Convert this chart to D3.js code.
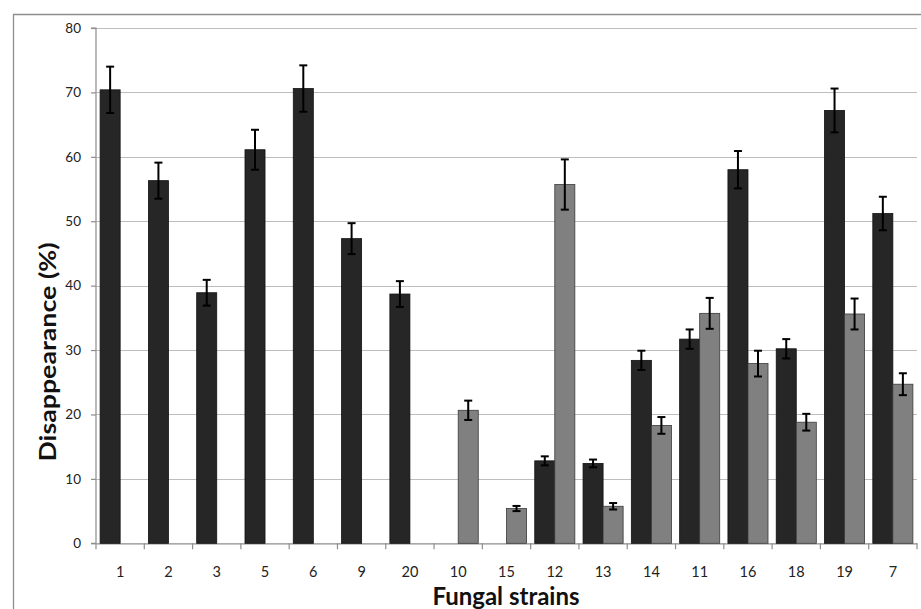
<!DOCTYPE html>
<html><head><meta charset="utf-8">
<script src="https://cdn.jsdelivr.net/npm/d3@7/dist/d3.min.js"></script>
<style>body{margin:0;background:#fff}svg{display:block}</style>
</head><body>
<svg id="c" width="921" height="609"></svg>
<script>
const strains = ["1","2","3","5","6","9","20","10","15","12","13","14","11","16","18","19","7"];
const darkVals = [70.4,56.3,38.9,61.1,70.6,47.3,38.7,null,null,12.8,12.4,28.4,31.7,58.0,30.2,67.2,51.2];
const darkErr  = [3.6,2.8,2.0,3.1,3.6,2.4,2.0,null,null,0.7,0.6,1.5,1.5,2.9,1.5,3.4,2.6];
const grayVals = [null,null,null,null,null,null,null,20.65,5.4,55.7,5.75,18.3,35.7,27.9,18.8,35.6,24.7];
const grayErr  = [null,null,null,null,null,null,null,1.5,0.4,3.9,0.5,1.3,2.4,2.0,1.3,2.4,1.7];
const yTicks = [0,10,20,30,40,50,60,70,80];

const svg = d3.select("#c");
const F = "Lato, 'Open Sans', sans-serif";
// outer chart border
svg.append("path").attr("d","M13.5,609 V14.5 H921").attr("fill","none").attr("stroke","#8e8e8e").attr("stroke-width",1.3);

const x0 = 96, x1 = 917, yTop = 28, yBot = 543.3;
const x = d3.scaleBand().domain(strains).range([x0,x1]).paddingInner(0).paddingOuter(0);
const y = d3.scaleLinear().domain([0,80]).range([yBot,yTop]);
const bw = x.bandwidth();
const gap = bw*0.17;
const sub = d3.scaleBand().domain(["d","g"]).range([gap/2, bw-gap/2]);

// gridlines
svg.append("g").selectAll("line").data(yTicks.filter(t=>t>0)).join("line")
  .attr("x1",x0).attr("x2",x1).attr("y1",d=>Math.round(y(d))+0.5).attr("y2",d=>Math.round(y(d))+0.5)
  .attr("stroke","#bdbdbd").attr("stroke-width",1.2);

// y axis
const ya = svg.append("g").attr("transform",`translate(${x0},0)`)
  .call(d3.axisLeft(y).tickValues(yTicks).tickSize(5).tickPadding(10));
ya.select(".domain").attr("stroke","#8e8e8e").attr("stroke-width",1.2).attr("d",`M-5,${yBot}H0V${yTop}H-5`);
ya.selectAll(".tick line").attr("stroke","#8e8e8e").attr("stroke-width",1.2);
ya.selectAll("text").attr("font-family",F).attr("font-size",13.5).attr("fill","#222");

// x axis
const xa = svg.append("g").attr("transform",`translate(0,${yBot})`)
  .call(d3.axisBottom(x).tickSize(0).tickPadding(23));
xa.select(".domain").attr("stroke","#8e8e8e").attr("stroke-width",1.2);
xa.selectAll("text").attr("font-family",F).attr("font-size",14.5).attr("fill","#222");
// category boundary ticks
svg.append("g").selectAll("line").data(strains.concat(["end"])).join("line")
  .attr("x1",(d,i)=>x0+i*bw).attr("x2",(d,i)=>x0+i*bw)
  .attr("y1",yBot).attr("y2",yBot+6).attr("stroke","#8e8e8e").attr("stroke-width",1.2);

// bars
const series = [
  {key:"d", vals:darkVals, errs:darkErr, fill:"#262626", stroke:"#111"},
  {key:"g", vals:grayVals, errs:grayErr, fill:"#808080", stroke:"#3a3a3a"}
];
series.forEach(s=>{
  const data = strains.map((c,i)=>({c, v:s.vals[i], e:s.errs[i]})).filter(d=>d.v!=null);
  const g = svg.append("g");
  g.selectAll("rect").data(data).join("rect")
    .attr("x",d=>x(d.c)+sub(s.key)).attr("width",sub.bandwidth())
    .attr("y",d=>y(d.v)).attr("height",d=>y(0)-y(d.v))
    .attr("fill",s.fill).attr("stroke",s.stroke).attr("stroke-width",0.8);
  const eb = svg.append("g").attr("stroke","#000").attr("stroke-width",2);
  data.forEach(d=>{
    const cx = x(d.c)+sub(s.key)+sub.bandwidth()/2;
    eb.append("line").attr("x1",cx).attr("x2",cx).attr("y1",y(d.v+d.e)).attr("y2",y(d.v-d.e));
    eb.append("line").attr("x1",cx-4).attr("x2",cx+4).attr("y1",y(d.v+d.e)).attr("y2",y(d.v+d.e));
    eb.append("line").attr("x1",cx-4).attr("x2",cx+4).attr("y1",y(d.v-d.e)).attr("y2",y(d.v-d.e));
  });
});

// axis titles
svg.append("text").attr("transform","translate(56,352) rotate(-90)").attr("text-anchor","middle")
  .attr("font-family",F).attr("font-weight","bold").attr("font-size",23).attr("fill","#111")
  .attr("textLength",219).attr("lengthAdjust","spacingAndGlyphs").text("Disappearance (%)");
svg.append("text").attr("x",506).attr("y",605).attr("text-anchor","middle")
  .attr("font-family",F).attr("font-weight","bold").attr("font-size",24).attr("fill","#111").text("Fungal strains");
</script>
</body></html>
